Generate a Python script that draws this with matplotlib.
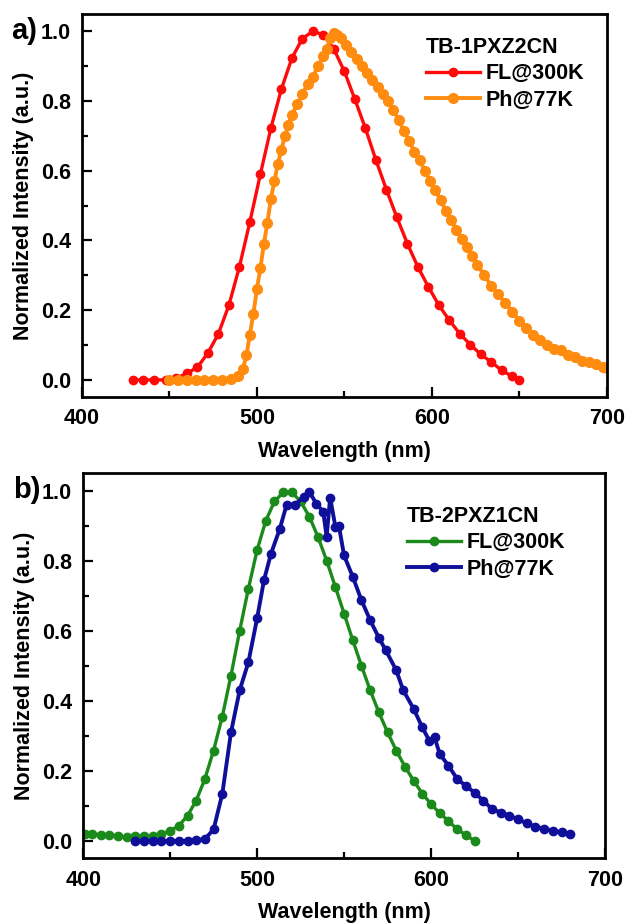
import matplotlib
matplotlib.use('Agg')
from matplotlib import pyplot as plt
from matplotlib.ticker import MultipleLocator

plt.rcParams['font.family'] = ['Liberation Sans', 'DejaVu Sans']
plt.rcParams['font.weight'] = 'bold'

# panel a) TB-1PXZ2CN
fl_a_x = [429, 435, 441, 448, 454, 460, 466, 472, 478, 484, 490, 496, 502, 508, 514, 520,
          526, 532, 538, 544, 550, 556, 562, 568, 574, 580, 586, 592, 598, 604, 610, 616,
          622, 628, 634, 640, 646, 650]
fl_a_y = [0.0, 0.0, 0.0, 0.0, 0.005, 0.019, 0.036, 0.077, 0.132, 0.214, 0.324, 0.453, 0.59,
          0.722, 0.834, 0.923, 0.979, 1.0, 0.99, 0.949, 0.885, 0.805, 0.722, 0.631, 0.546,
          0.466, 0.391, 0.324, 0.267, 0.214, 0.171, 0.132, 0.101, 0.073, 0.051, 0.027, 0.01, 0.0]

ph_a_x = [450, 455, 460, 465, 470, 475, 480, 485, 489, 492, 494, 496, 498, 500, 502, 504, 506,
          508, 510, 512, 514, 516, 518, 520, 523, 526, 529, 532, 535, 538, 540, 542, 544, 546,
          548, 551, 554, 557, 560, 563, 566, 569, 572, 575, 578, 581, 584, 587, 590, 593, 596,
          599, 602, 605, 608, 611, 614, 617, 620, 623, 626, 630, 634, 638, 642, 646, 650, 654,
          658, 662, 666, 670, 674, 678, 682, 686, 690, 694, 698, 700]
ph_a_y = [0.0, 0.0, 0.0, 0.0, 0.0, 0.0, 0.0, 0.003, 0.01, 0.03, 0.07, 0.13, 0.19, 0.26, 0.32,
          0.39, 0.45, 0.52, 0.57, 0.62, 0.66, 0.70, 0.73, 0.76, 0.79, 0.82, 0.85, 0.87, 0.90,
          0.93, 0.95, 0.98, 0.995, 0.99, 0.98, 0.96, 0.94, 0.92, 0.90, 0.88, 0.86, 0.84, 0.82,
          0.80, 0.775, 0.745, 0.715, 0.685, 0.655, 0.63, 0.60, 0.57, 0.545, 0.515, 0.485, 0.46,
          0.43, 0.405, 0.38, 0.355, 0.33, 0.30, 0.27, 0.245, 0.22, 0.195, 0.17, 0.15, 0.13,
          0.115, 0.10, 0.09, 0.085, 0.07, 0.065, 0.055, 0.05, 0.045, 0.038, 0.035]

# panel b) TB-2PXZ1CN
fl_b_x = [401, 405, 410, 415, 420, 425, 430, 435, 440, 445, 450, 455, 460, 465, 470, 475, 480,
          485, 490, 495, 500, 505, 510, 515, 520, 525, 530, 535, 540, 545, 550, 555, 560, 565,
          570, 575, 580, 585, 590, 595, 600, 605, 610, 615, 620, 625]
fl_b_y = [0.019, 0.019, 0.018, 0.017, 0.014, 0.011, 0.013, 0.014, 0.014, 0.019, 0.029, 0.043,
          0.072, 0.115, 0.177, 0.258, 0.355, 0.472, 0.60, 0.72, 0.83, 0.914, 0.969, 0.995,
          0.995, 0.969, 0.926, 0.868, 0.80, 0.725, 0.649, 0.573, 0.50, 0.43, 0.367, 0.31,
          0.258, 0.212, 0.172, 0.135, 0.105, 0.079, 0.057, 0.033, 0.017, 0.0]

ph_b_x = [430, 435, 440, 445, 450, 455, 460, 465, 470, 475, 480, 485, 490, 495, 500, 504, 508,
          513, 517, 522, 527, 530, 534, 538, 540, 542, 545, 547, 550, 555, 560, 565, 570, 574,
          580, 584, 590, 595, 599, 602, 605, 610, 615, 620, 625, 630, 635, 640, 645, 650, 655,
          660, 665, 670, 675, 680]
ph_b_y = [0.0, 0.0, 0.0, 0.0, 0.0, 0.0, 0.0, 0.002, 0.005, 0.033, 0.134, 0.31, 0.43, 0.51,
          0.635, 0.745, 0.82, 0.89, 0.96, 0.96, 0.983, 0.997, 0.963, 0.94, 0.868, 0.98, 0.897,
          0.90, 0.815, 0.754, 0.687, 0.63, 0.58, 0.544, 0.487, 0.43, 0.377, 0.324, 0.286,
          0.296, 0.248, 0.215, 0.177, 0.157, 0.138, 0.115, 0.091, 0.081, 0.072, 0.062, 0.05,
          0.04, 0.035, 0.029, 0.024, 0.021]

panels = [
    ('a)', 'TB-1PXZ2CN', fl_a_x, fl_a_y, ph_a_x, ph_a_y, '#ff0a0a', '#ff8c0f', 7.0,
     [0.131, 0.570, 0.840, 0.415], (0.655, 0.94)),
    ('b)', 'TB-2PXZ1CN', fl_b_x, fl_b_y, ph_b_x, ph_b_y, '#1a8a1a', '#0f0f9a', 6.0,
     [0.133, 0.071, 0.835, 0.417], (0.62, 0.915)),
]

fig = plt.figure(figsize=(6.25, 9.24), dpi=100)

for tag, name, fx, fy, px, py, c1, c2, ph_ms, rect, anchor in panels:
    ax = fig.add_axes(rect)
    ax.plot(fx, fy, '-o', color=c1, lw=2.4, ms=6, label='FL@300K')
    ax.plot(px, py, '-o', color=c2, lw=2.8, ms=ph_ms, label='Ph@77K')
    ax.set_xlim(400, 700)
    ax.set_ylim(-0.05, 1.05)
    ax.xaxis.set_major_locator(MultipleLocator(100))
    ax.xaxis.set_minor_locator(MultipleLocator(50))
    ax.yaxis.set_major_locator(MultipleLocator(0.2))
    ax.yaxis.set_minor_locator(MultipleLocator(0.1))
    ax.yaxis.set_major_formatter(plt.FormatStrFormatter('%.1f'))
    ax.tick_params(which='both', direction='in', width=1.6, labelsize=15.5, top=False, right=False)
    ax.tick_params(which='major', length=7, pad=8)
    ax.tick_params(which='minor', length=4.5)
    for s in ax.spines.values():
        s.set_linewidth(2)
    for lab in ax.get_xticklabels() + ax.get_yticklabels():
        lab.set_fontweight('bold')
    ax.set_xlabel('Wavelength (nm)', fontsize=15.5, fontweight='bold', labelpad=8)
    ax.set_ylabel('Normalized Intensity (a.u.)', fontsize=15.5, fontweight='bold', labelpad=5)
    leg = ax.legend(title=name, frameon=False, loc='upper left', bbox_to_anchor=anchor,
                    borderpad=0, borderaxespad=0, title_fontsize=15.5, handlelength=2.5,
                    handletextpad=0.3, labelspacing=0.25,
                    prop={'weight': 'bold', 'size': 15.5})
    leg.get_title().set_fontweight('bold')
    leg._legend_box.align = 'left'
    ax.text(-0.134, 0.955, tag, transform=ax.transAxes, fontsize=21, fontweight='bold',
            ha='left', va='center')

fig.savefig('out.png', dpi=100)
